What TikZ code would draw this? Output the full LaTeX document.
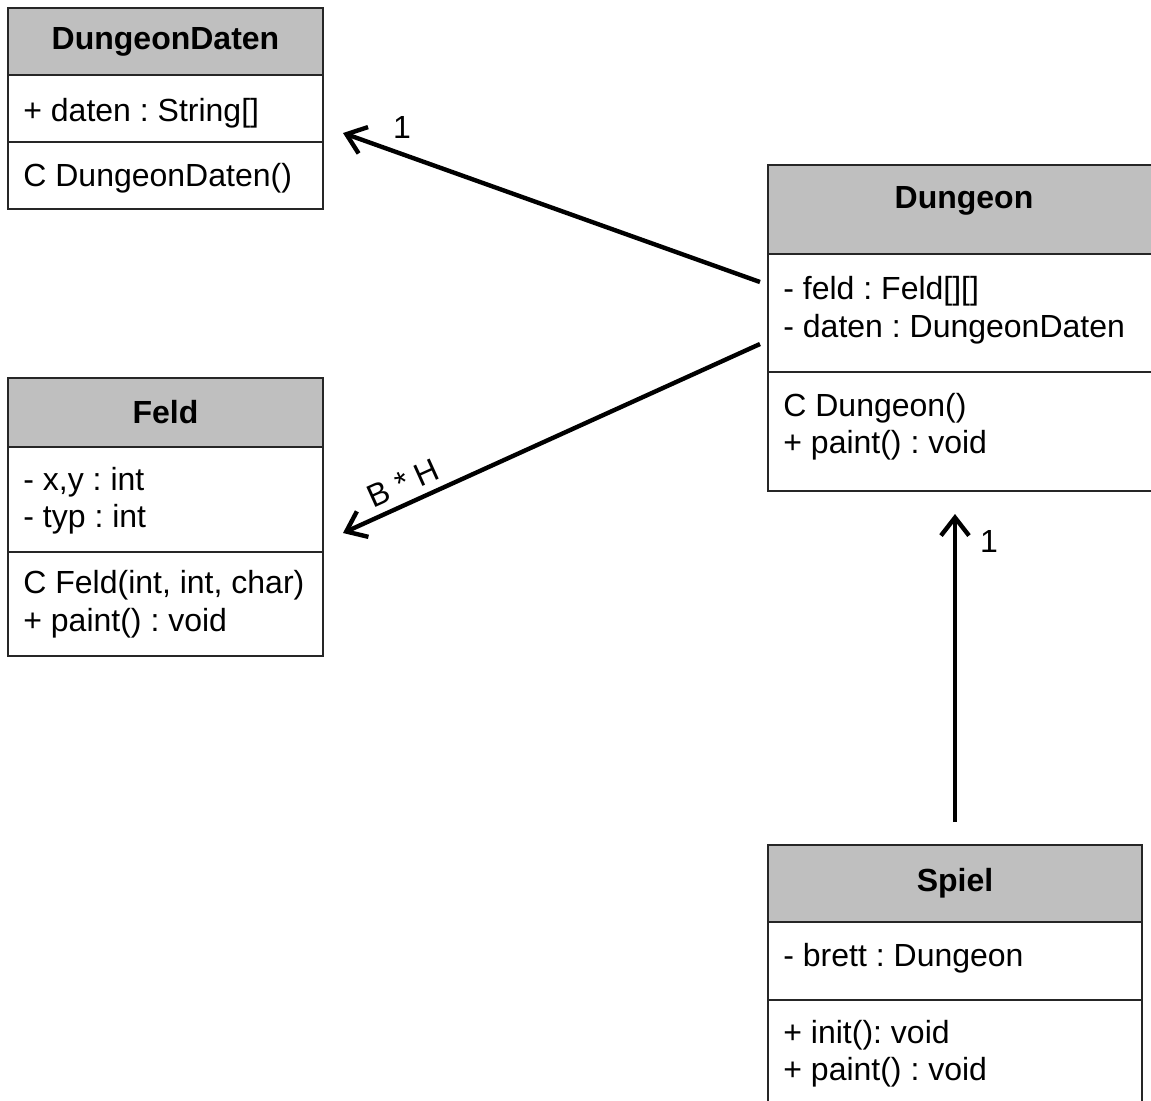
\documentclass[tikz,border=0pt]{standalone}
\usepackage{fontspec}
\setmainfont{Liberation Sans}
\usetikzlibrary{fit, arrows.meta}
\definecolor{headgray}{RGB}{191,191,191}
\frenchspacing

\begin{document}
\begin{tikzpicture}[x=0.5pt, y=-0.5pt, font=\fontsize{16}{19}\selectfont,
  box/.style={draw=black!85, line width=1pt, inner sep=0pt},
  head/.style={box, fill=headgray},
  title/.style={font=\fontsize{16}{19}\selectfont\bfseries, inner sep=0pt},
  member/.style={anchor=base west, inner sep=0pt},
  assoc/.style={line width=2.2pt, -{Straight Barb[length=9pt, width=14pt]}}]
\useasboundingbox (0,0) rectangle (1151,1100);
\clip (0,0) rectangle (1151,1100);

% DungeonDaten
\node[head, fit={(8,8) (323,75)}] (ddHead) {};
\node[box, fit={(8,75) (323,142)}] (ddAttr) {};
\node[box, fit={(8,142) (323,209)}] (ddOps) {};
\node[title] (ddName) at (ddHead.center) {DungeonDaten};
\node[member] (ddDaten) at (23,121) {+ daten : String[]};
\node[member] (ddCons) at (23,186) {C DungeonDaten()};

% Feld
\node[head, fit={(8,378) (323,447)}] (fHead) {};
\node[box, fit={(8,447) (323,552)}] (fAttr) {};
\node[box, fit={(8,552) (323,656)}] (fOps) {};
\node[title] (fName) at (fHead.center) {Feld};
\node[member] (fXY) at (23,490) {- x,y : int};
\node[member] (fTyp) at (23,527) {- typ : int};
\node[member] (fCons) at (23,593) {C Feld(int, int, char)};
\node[member] (fPaint) at (23,631) {+ paint() : void};

% Dungeon
\node[head, fit={(768,165) (1160,254)}] (dHead) {};
\node[box, fit={(768,254) (1160,372)}] (dAttr) {};
\node[box, fit={(768,372) (1160,491)}] (dOps) {};
\node[title, yshift=4.2pt] (dName) at (dHead.center) {Dungeon};
\node[member] (dFeld) at (783,299) {- feld : Feld[][]};
\node[member] (dDaten) at (783,337) {- daten : DungeonDaten};
\node[member] (dCons) at (783,416) {C Dungeon()};
\node[member] (dPaint) at (783,453) {+ paint() : void};

% Spiel
\node[head, fit={(768,845) (1142,922)}] (sHead) {};
\node[box, fit={(768,922) (1142,1000)}] (sAttr) {};
\node[box, fit={(768,1000) (1142,1110)}] (sOps) {};
\node[title] (sName) at (sHead.center) {Spiel};
\node[member] (sBrett) at (783,966) {- brett : Dungeon};
\node[member] (sInit) at (783,1043) {+ init(): void};
\node[member] (sPaint) at (783,1080) {+ paint() : void};

% associations
\coordinate (dOut1) at (760,282);
\coordinate (ddIn) at (343,133);
\coordinate (dOut2) at (760,344);
\coordinate (fIn) at (343,533);
\draw[assoc] (dOut1) -- (ddIn);
\draw[assoc] (dOut2) -- (fIn);
\draw[assoc, shorten <=11pt, shorten >=11pt] (sHead.north) -- (sHead.north |- dOps.south);

\node (mDaten) at (402,127) {1};
\node[rotate=24.3, inner sep=1pt] (mFeld) at (403,483) {B * H};
\node (mSpiel) at (989,541) {1};
\end{tikzpicture}
\end{document}
